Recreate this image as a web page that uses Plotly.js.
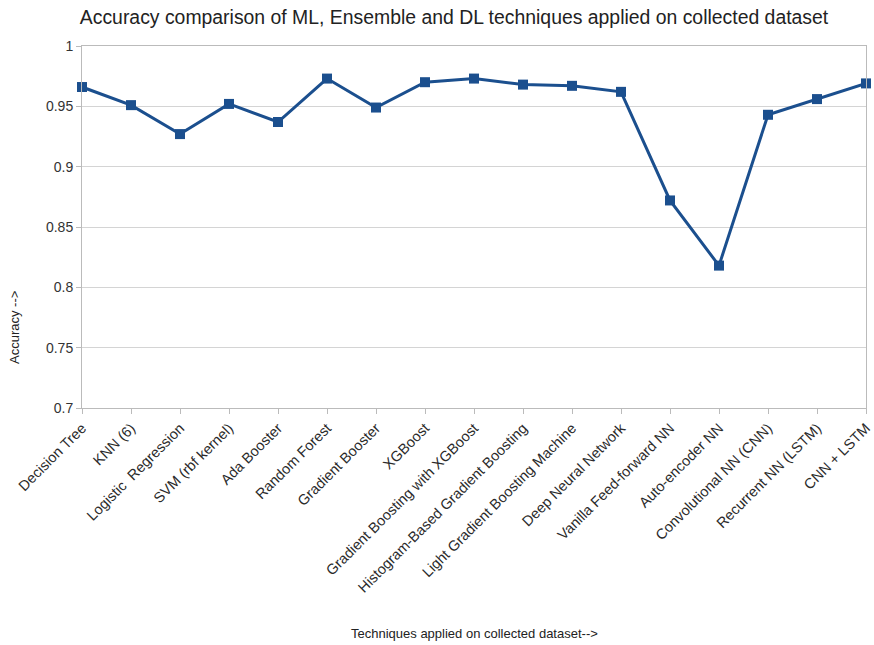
<!DOCTYPE html>
<html><head><meta charset="utf-8">
<script src="https://cdn.plot.ly/plotly-3.0.1.min.js"></script>
<style>body{margin:0;background:#fff}#chart{width:874px;height:645px}</style>
</head><body><div id="chart"></div>
<script>
const techniques = ["Decision Tree","KNN (6)","Logistic  Regression","SVM (rbf kernel)","Ada Booster","Random Forest","Gradient Booster","XGBoost","Gradient Boosting with XGBoost","Histogram-Based Gradient Boosting","Light Gradient Boosting Machine","Deep Neural Network","Vanilla Feed-forward NN","Auto-encoder NN","Convolutional NN (CNN)","Recurrent NN (LSTM)","CNN + LSTM"];
const accuracy = [0.966,0.951,0.927,0.952,0.937,0.973,0.949,0.970,0.973,0.968,0.967,0.962,0.872,0.818,0.943,0.956,0.969];
const yTicks = [0.7,0.75,0.8,0.85,0.9,0.95,1];
const yTickText = ["0.7","0.75","0.8","0.85","0.9","0.95","1"];

const font = "Liberation Sans, Arial, sans-serif";
const trace = {
  x: techniques, y: accuracy, type: "scatter", mode: "lines+markers",
  line: {color: "#1b4f8e", width: 3},
  marker: {symbol: "square", size: 10, color: "#1b4f8e"},
  cliponaxis: false, hoverinfo: "none"
};
const layout = {
  width: 874, height: 645,
  margin: {l: 82, r: 8, t: 46, b: 237},
  paper_bgcolor: "#fff", plot_bgcolor: "#fff",
  font: {family: font, color: "#333", size: 12},
  showlegend: false,
  title: {text: "Accuracy comparison of ML, Ensemble and DL techniques applied on collected dataset",
          font: {size: 19.4, color: "#222", family: font}, x: 454/874, xanchor: "center", y: 0.973, yanchor: "middle", xref: "container", yref: "container"},
  xaxis: {type: "category", range: [0, 16], tickangle: -45, ticks: "outside", ticklen: 5, tickcolor: "#bbb",
          showline: true, linecolor: "#bbb", mirror: true, showgrid: false, zeroline: false,
          tickfont: {size: 14.5, color: "#2a2a2a", family: font}},
  yaxis: {range: [0.7, 1], tickvals: yTicks, ticktext: yTickText, ticks: "outside", ticklen: 5, tickcolor: "#bbb",
          showline: true, linecolor: "#bbb", mirror: true, gridcolor: "#d4d4d4", gridwidth: 1, zeroline: false,
          tickfont: {size: 14, color: "#333", family: font}},
  annotations: [
    {text: "Techniques applied on collected dataset-->", xref: "paper", yref: "paper", x: 0.5, y: -(633-408)/362, xanchor: "center", yanchor: "middle", showarrow: false, font: {size: 13, color: "#222", family: font}},
    {text: "Accuracy -->", xref: "paper", yref: "paper", x: -(82-14)/784, y: (408-328)/362, xanchor: "center", yanchor: "middle", textangle: -90, showarrow: false, font: {size: 13, color: "#222", family: font}}
  ]
};
Plotly.newPlot("chart", [trace], layout, {staticPlot: true});
</script></body></html>
